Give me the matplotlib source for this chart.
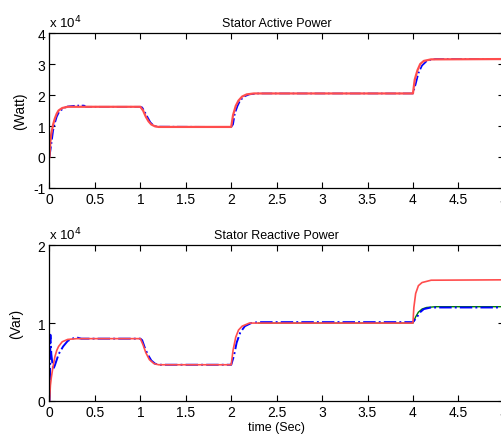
import matplotlib
matplotlib.use("Agg")
import matplotlib.pyplot as plt

plt.rcParams['font.family'] = ['Liberation Sans', 'DejaVu Sans']
plt.rcParams['axes.unicode_minus'] = False

# values read in units of 1e4
# stator active power - reference (red)
p_ref_t = [0, 0.01, 0.02, 0.04, 0.06, 0.08, 0.1, 0.14, 0.2, 0.3,
           1.0, 1.03, 1.06, 1.09, 1.12, 1.16, 1.2,
           2.0, 2.02, 2.05, 2.08, 2.12, 2.17, 2.25,
           4.0, 4.02, 4.05, 4.08, 4.12, 4.2, 5.0]
p_ref = [0, 0.5, 0.75, 1.05, 1.25, 1.4, 1.5, 1.58, 1.62, 1.62,
         1.62, 1.5, 1.3, 1.15, 1.05, 0.99, 0.97,
         0.97, 1.35, 1.65, 1.82, 1.95, 2.02, 2.05,
         2.05, 2.5, 2.8, 3.0, 3.1, 3.15, 3.16]
# stator active power - measured (blue)
p_meas_t = [0, 0.02, 0.04, 0.06, 0.08, 0.1, 0.15, 0.2, 0.3, 0.38, 0.4,
            1.0, 1.02, 1.05, 1.08, 1.11, 1.14, 1.18,
            2.0, 2.02, 2.04, 2.07, 2.1, 2.15, 2.2, 2.3,
            4.0, 4.03, 4.06, 4.1, 4.15, 4.2, 4.25, 5.0]
p_meas = [0, 0.4, 0.85, 1.1, 1.3, 1.42, 1.57, 1.63, 1.66, 1.66, 1.62,
          1.62, 1.6, 1.45, 1.28, 1.12, 1.03, 0.98,
          0.97, 1.05, 1.4, 1.65, 1.83, 1.96, 2.02, 2.05,
          2.05, 2.35, 2.7, 2.95, 3.09, 3.14, 3.16, 3.16]

# stator reactive power - reference (red)
q_ref_t = [0, 0.01, 0.02, 0.04, 0.06, 0.08, 0.1, 0.14, 0.2, 0.3,
           1.0, 1.03, 1.06, 1.1, 1.15, 1.2,
           2.0, 2.02, 2.05, 2.08, 2.12, 2.2,
           4.0, 4.01, 4.03, 4.06, 4.1, 4.2, 5.0]
q_ref = [0, 0.2, 0.3, 0.45, 0.57, 0.65, 0.7, 0.76, 0.79, 0.8,
         0.8, 0.72, 0.62, 0.53, 0.48, 0.465,
         0.465, 0.65, 0.82, 0.91, 0.96, 1.0,
         1.0, 1.2, 1.38, 1.48, 1.52, 1.55, 1.555]
# stator reactive power - measured (blue)
q_meas_t = [0, 0.005, 0.01, 0.02, 0.04, 0.06, 0.1, 0.15, 0.2, 0.25, 0.3, 0.35,
            1.0, 1.02, 1.05, 1.08, 1.12, 1.16, 1.2,
            2.0, 2.03, 2.06, 2.1, 2.15, 2.22, 2.3,
            4.0, 4.04, 4.08, 4.12, 4.2, 5.0]
q_meas = [0, 0.2, 0.85, 0.6, 0.4, 0.46, 0.6, 0.7, 0.77, 0.8, 0.815, 0.8,
          0.8, 0.78, 0.68, 0.6, 0.52, 0.48, 0.465,
          0.465, 0.58, 0.75, 0.88, 0.96, 1.0, 1.012,
          1.012, 1.07, 1.14, 1.18, 1.2, 1.2]
# stator reactive power - second (green), only differs after 4 s
q_alt_t = [2.3, 4.0, 4.03, 4.06, 4.1, 4.15, 4.25, 5.0]
q_alt = [1.0, 1.0, 1.08, 1.14, 1.18, 1.2, 1.21, 1.21]

x_ticks = [0, 0.5, 1, 1.5, 2, 2.5, 3, 3.5, 4, 4.5, 5]
x_labels = ["0", "0.5", "1", "1.5", "2", "2.5", "3", "3.5", "4", "4.5", "5"]

fig = plt.figure(figsize=(5.02, 4.39), dpi=100)
fig.patch.set_facecolor("white")

ax1 = fig.add_axes([0.0986, 0.5695, 0.905, 0.353])
ax2 = fig.add_axes([0.0986, 0.0843, 0.905, 0.355])

red = (1.0, 0.3, 0.3)

ax1.plot(p_meas_t, p_meas, color="blue", linestyle="-.", linewidth=1.2)
ax1.plot(p_ref_t, p_ref, color=red, linewidth=1.6)
ax1.set_ylim(-1, 4)
ax1.set_yticks([-1, 0, 1, 2, 3, 4])
ax1.set_title("Stator Active Power", fontsize=9, pad=5)
ax1.set_ylabel("(Watt)", fontsize=10, labelpad=4)
ax1.text(0.0, 1.04, r"x 10$^4$", transform=ax1.transAxes, fontsize=9.5)

ax2.plot(q_alt_t, q_alt, color="green", linewidth=1.0)
ax2.plot(q_meas_t, q_meas, color="blue", linestyle="-.", linewidth=1.4)
ax2.plot(q_ref_t, q_ref, color=red, linewidth=1.2)
ax2.set_ylim(0, 2)
ax2.set_yticks([0, 1, 2])
ax2.set_title("Stator Reactive Power", fontsize=9, pad=5)
ax2.set_ylabel("(Var)", fontsize=10, labelpad=10)
ax2.set_xlabel("time (Sec)", fontsize=9, labelpad=1)
ax2.text(0.0, 1.04, r"x 10$^4$", transform=ax2.transAxes, fontsize=9.5)

for ax in (ax1, ax2):
    ax.set_xlim(0, 5)
    ax.set_xticks(x_ticks)
    ax.set_xticklabels(x_labels)
    ax.tick_params(direction="in", top=True, right=True, length=4,
                   labelsize=10, width=0.8, pad=3)
    for s in ax.spines.values():
        s.set_linewidth(0.9)

fig.savefig("out.png", dpi=100)
